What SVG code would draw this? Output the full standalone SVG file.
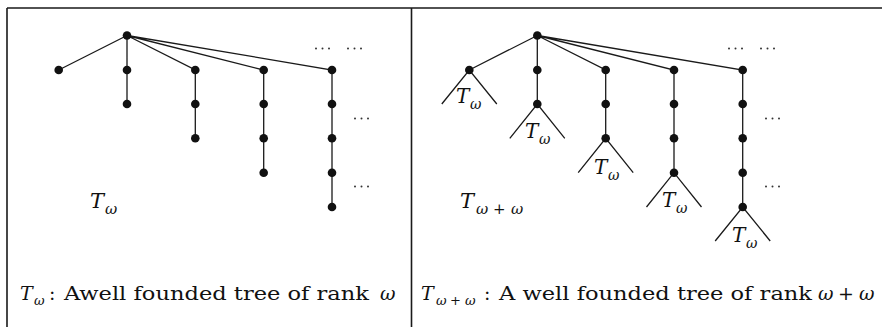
<svg xmlns="http://www.w3.org/2000/svg" width="882" height="327" viewBox="0 0 882 327">
<style>
.frame{stroke:#1a1a1a;stroke-width:1.6;fill:none}
.e{stroke:#1a1a1a;stroke-width:1.3;fill:none}
.n{fill:#111}
.d{fill:#333}
text{font-family:'DejaVu Serif','Liberation Serif',serif;fill:#111}
.it{font-style:italic}
</style>
<rect width="882" height="327" fill="#fff"/>
<g id="frame">
<path class="frame" d="M7,8 H882 M7,8 V327 M411.5,8 V327"/>
</g>
<g id="connectors">
<path class="e" d="M127,35.5 L58.7,70 M127,35.5 L127,104 M127,35.5 L195.3,70 L195.3,138.3 M127,35.5 L263.7,70 L263.7,172.7 M127,35.5 L332,70 L332,207"/>
<path class="e" d="M537.3,35.5 L469.3,70 M537.3,35.5 L537.3,104 M537.3,35.5 L605.7,70 L605.7,138.3 M537.3,35.5 L674,70 L674,172.7 M537.3,35.5 L742.7,70 L742.7,207"/>
<path class="e" d="M441.8,104 L469.3,70 L496.8,104 M509.8,138.3 L537.3,104 L564.8,138.3 M578.2,172.7 L605.7,138.3 L633.2,172.7 M646.5,207 L674,172.7 L701.5,207 M715.2,241 L742.7,207 L770.2,241"/>
</g>
<g id="left-tree">
<g id="l-root"><circle class="n" cx="127" cy="35.5" r="4.3"/></g>
<g id="l-b1"><circle class="n" cx="58.7" cy="70" r="4.3"/></g>
<g id="l-b2"><circle class="n" cx="127" cy="70" r="4.3"/><circle class="n" cx="127" cy="104" r="4.3"/></g>
<g id="l-b3"><circle class="n" cx="195.3" cy="70" r="4.3"/><circle class="n" cx="195.3" cy="104" r="4.3"/><circle class="n" cx="195.3" cy="138.3" r="4.3"/></g>
<g id="l-b4"><circle class="n" cx="263.7" cy="70" r="4.3"/><circle class="n" cx="263.7" cy="104" r="4.3"/><circle class="n" cx="263.7" cy="138.3" r="4.3"/><circle class="n" cx="263.7" cy="172.7" r="4.3"/></g>
<g id="l-b5"><circle class="n" cx="332" cy="70" r="4.3"/><circle class="n" cx="332" cy="104" r="4.3"/><circle class="n" cx="332" cy="138.3" r="4.3"/><circle class="n" cx="332" cy="172.7" r="4.3"/><circle class="n" cx="332" cy="207" r="4.3"/></g>
<g id="l-dots">
<circle class="d" cx="316" cy="48.5" r="1"/><circle class="d" cx="322.5" cy="48.5" r="1"/><circle class="d" cx="329" cy="48.5" r="1"/>
<circle class="d" cx="348" cy="48.5" r="1"/><circle class="d" cx="354.5" cy="48.5" r="1"/><circle class="d" cx="361" cy="48.5" r="1"/>
<circle class="d" cx="355" cy="118.5" r="1"/><circle class="d" cx="361.5" cy="118.5" r="1"/><circle class="d" cx="368" cy="118.5" r="1"/>
<circle class="d" cx="355" cy="186.5" r="1"/><circle class="d" cx="361.5" cy="186.5" r="1"/><circle class="d" cx="368" cy="186.5" r="1"/>
</g>
<g id="l-label"><text class="it" x="90" y="208" font-size="21">T</text><text class="it" x="105" y="214" font-size="15">ω</text></g>
</g>
<g id="right-tree">
<g id="r-root"><circle class="n" cx="537.3" cy="35.5" r="4.3"/></g>
<g id="r-b1"><circle class="n" cx="469.3" cy="70" r="4.3"/><text class="it" x="456" y="103" font-size="20">T</text><text class="it" x="470" y="109" font-size="14">ω</text></g>
<g id="r-b2"><circle class="n" cx="537.3" cy="70" r="4.3"/><circle class="n" cx="537.3" cy="104" r="4.3"/><text class="it" x="525" y="138" font-size="20">T</text><text class="it" x="539" y="144" font-size="14">ω</text></g>
<g id="r-b3"><circle class="n" cx="605.7" cy="70" r="4.3"/><circle class="n" cx="605.7" cy="104" r="4.3"/><circle class="n" cx="605.7" cy="138.3" r="4.3"/><text class="it" x="594" y="174" font-size="20">T</text><text class="it" x="608" y="180" font-size="14">ω</text></g>
<g id="r-b4"><circle class="n" cx="674" cy="70" r="4.3"/><circle class="n" cx="674" cy="104" r="4.3"/><circle class="n" cx="674" cy="138.3" r="4.3"/><circle class="n" cx="674" cy="172.7" r="4.3"/><text class="it" x="662" y="206.5" font-size="20">T</text><text class="it" x="676" y="212.5" font-size="14">ω</text></g>
<g id="r-b5"><circle class="n" cx="742.7" cy="70" r="4.3"/><circle class="n" cx="742.7" cy="104" r="4.3"/><circle class="n" cx="742.7" cy="138.3" r="4.3"/><circle class="n" cx="742.7" cy="172.7" r="4.3"/><circle class="n" cx="742.7" cy="207" r="4.3"/><text class="it" x="732" y="241.5" font-size="20">T</text><text class="it" x="746" y="247.5" font-size="14">ω</text></g>
<g id="r-dots">
<circle class="d" cx="729" cy="48.5" r="1"/><circle class="d" cx="735.5" cy="48.5" r="1"/><circle class="d" cx="742" cy="48.5" r="1"/>
<circle class="d" cx="761" cy="48.5" r="1"/><circle class="d" cx="767.5" cy="48.5" r="1"/><circle class="d" cx="774" cy="48.5" r="1"/>
<circle class="d" cx="766" cy="118.5" r="1"/><circle class="d" cx="772.5" cy="118.5" r="1"/><circle class="d" cx="779" cy="118.5" r="1"/>
<circle class="d" cx="766" cy="186.5" r="1"/><circle class="d" cx="772.5" cy="186.5" r="1"/><circle class="d" cx="779" cy="186.5" r="1"/>
</g>
<g id="r-label"><text class="it" x="460" y="208" font-size="21">T</text><text class="it" x="476" y="214" font-size="15">ω</text><text x="493" y="214" font-size="15">+</text><text class="it" x="511" y="214" font-size="15">ω</text></g>
</g>
<g id="captions">
<g id="l-caption">
<text class="it" x="20" y="300" font-size="19">T</text><text class="it" x="34" y="305" font-size="13">ω</text>
<text x="49" y="300" font-size="19">:</text>
<text x="64" y="300" font-size="19" textLength="305" lengthAdjust="spacingAndGlyphs">Awell founded tree of rank</text>
<text class="it" x="380" y="300" font-size="19">ω</text>
</g>
<g id="r-caption">
<text class="it" x="421" y="300" font-size="19">T</text><text class="it" x="436" y="305" font-size="13">ω</text><text x="450" y="305" font-size="13">+</text><text class="it" x="465" y="305" font-size="13">ω</text>
<text x="484" y="300" font-size="19">:</text>
<text x="499" y="300" font-size="19" textLength="313" lengthAdjust="spacingAndGlyphs">A well founded tree of rank</text>
<text class="it" x="818" y="300" font-size="19">ω</text><text x="838" y="300" font-size="19">+</text><text class="it" x="859" y="300" font-size="19">ω</text>
</g>
</g>
</svg>
